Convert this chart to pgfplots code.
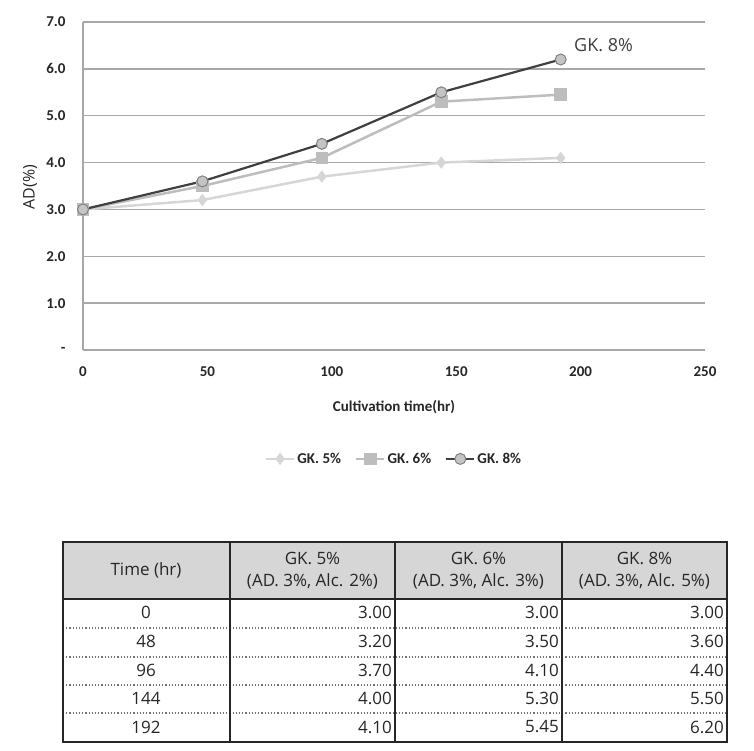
\documentclass[border=0pt]{standalone}
\usepackage{fontspec}
\setmainfont{Open Sans}
\newfontfamily\carl{Carlito}
\usepackage{pgfplots}
\pgfplotsset{compat=1.18}

\definecolor{gkfive}{HTML}{D6D6D6}
\definecolor{gksix}{HTML}{BDBDBD}
\definecolor{gkeight}{HTML}{404040}
\definecolor{gkfill}{HTML}{C4C4C4}
\definecolor{gridc}{HTML}{A8A8A8}
\definecolor{txt}{HTML}{262626}

\begin{document}
\begin{tikzpicture}[x=1pt,y=1pt]
\path[use as bounding box] (0,0) rectangle (754,-751);

\begin{axis}[
    at={(83pt,-350pt)}, anchor=south west,
    scale only axis, width=622pt, height=328pt,
    xmin=0, xmax=250, ymin=0, ymax=7,
    clip=false,
    axis lines=left,
    axis line style={draw=gridc, line width=1.5pt, -},
    major tick length=0pt,
    xtick={0,50,100,150,200,250},
    xticklabels={0,50,100,150,200,250},
    ytick={0,1,2,3,4,5,6,7},
    yticklabels={-,1.0,2.0,3.0,4.0,5.0,6.0,7.0},
    ymajorgrids,
    grid style={draw=gridc, line width=1.5pt},
    tick label style={font=\carl\bfseries\fontsize{15}{18}\selectfont, text=txt},
    xticklabel style={yshift=-13pt},
    yticklabel style={xshift=-14pt},
    xlabel={Cultivation time(hr)},
    xlabel style={at={(axis description cs:0.5,-0.174)}, anchor=center,
                  font=\carl\bfseries\fontsize{15}{18}\selectfont, text=txt},
    ylabel={AD(\%)},
    ylabel style={at={(axis description cs:-0.0852,0.497)}, anchor=center,
                  font=\fontsize{16}{19}\selectfont, text=txt},
    legend style={at={(axis description cs:0.5,-0.332)}, anchor=center,
                  draw=none, fill=none, legend columns=-1,
                  font=\carl\bfseries\fontsize{15}{18}\selectfont, text=txt,
                  /tikz/every even column/.append style={column sep=12pt}},
    legend image code/.code={
      \draw[mark repeat=2,mark phase=2] plot coordinates {(0pt,0pt) (14pt,0pt) (28pt,0pt)};},
  ]

  \addplot[gkfive, line width=2.5pt, mark=diamond*, mark size=4.2pt,
           mark options={solid, fill=gkfive, draw=gkfive}]
    coordinates {(0,3.00) (48,3.20) (96,3.70) (144,4.00) (192,4.10)};
  \addlegendentry{GK. 5\%}

  \addplot[gksix, line width=2.5pt, mark=square*, mark size=5pt,
           mark options={solid, fill=gksix, draw=gksix}]
    coordinates {(0,3.00) (48,3.50) (96,4.10) (144,5.30) (192,5.45)};
  \addlegendentry{GK. 6\%}

  \addplot[gkeight, line width=2.2pt, mark=*, mark size=5.5pt,
           mark options={solid, fill=gkfill, draw=gray, line width=1pt}]
    coordinates {(0,3.00) (48,3.60) (96,4.40) (144,5.50) (192,6.20)};
  \addlegendentry{GK. 8\%}

  \node[anchor=west, xshift=10pt, yshift=14pt, text=gkeight,
        font=\fontsize{18}{21}\selectfont] at (axis cs:192,6.2) {GK. 8\%};
\end{axis}

% data table below the chart
\fill[black!16] (63,-542) rectangle (727,-599);
\foreach \yy in {628,657,685,713}
  \draw[black!55, dotted, line width=1.2pt] (63,-\yy) -- (727,-\yy);
\foreach \xx in {230,395,562}
  \draw[black!85, line width=1.5pt] (\xx,-542) -- (\xx,-742);
\draw[black!85, line width=2pt] (63,-599) -- (727,-599);
\draw[black!85, line width=1.5pt] (63,-542) rectangle (727,-742);

\begin{scope}[every node/.style={text=txt, font=\fontsize{17}{22}\selectfont, inner sep=0pt}]
  \node at (146,-570) {Time (hr)};
  \node[align=center] at (312.5,-571) {GK. 5\%\\(AD. 3\%, Alc. 2\%)};
  \node[align=center] at (478.5,-571) {GK. 6\%\\(AD. 3\%, Alc. 3\%)};
  \node[align=center] at (644.5,-571) {GK. 8\%\\(AD. 3\%, Alc. 5\%)};

  \node at (146,-612) {0};
  \node at (146,-641) {48};
  \node at (146,-670) {96};
  \node at (146,-698) {144};
  \node at (146,-727) {192};

  \node[anchor=east] at (392,-612) {3.00};
  \node[anchor=east] at (392,-641) {3.20};
  \node[anchor=east] at (392,-670) {3.70};
  \node[anchor=east] at (392,-698) {4.00};
  \node[anchor=east] at (392,-727) {4.10};

  \node[anchor=east] at (559,-612) {3.00};
  \node[anchor=east] at (559,-641) {3.50};
  \node[anchor=east] at (559,-670) {4.10};
  \node[anchor=east] at (559,-698) {5.30};
  \node[anchor=east] at (559,-727) {5.45};

  \node[anchor=east] at (724,-612) {3.00};
  \node[anchor=east] at (724,-641) {3.60};
  \node[anchor=east] at (724,-670) {4.40};
  \node[anchor=east] at (724,-698) {5.50};
  \node[anchor=east] at (724,-727) {6.20};
\end{scope}
\end{tikzpicture}
\end{document}
